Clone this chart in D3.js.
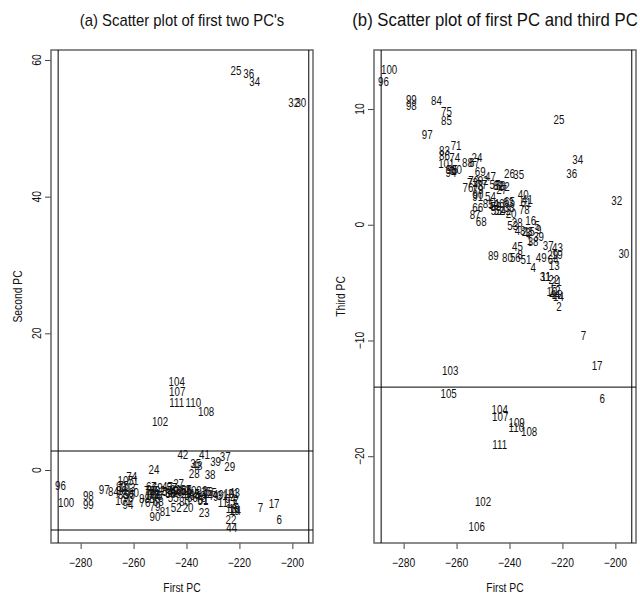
<!DOCTYPE html>
<html>
<head>
<meta charset="utf-8">
<script src="https://cdn.jsdelivr.net/npm/d3@7"></script>
<style>
  body { margin: 0; background: #fff; }
  svg text { font-family: "Liberation Sans", Arial, sans-serif; fill: #111; }
</style>
</head>
<body>
<div id="chart"></div>
<script>
const ids = d3.range(1, 112);

const pc1 = [
  -232.5, -221.3, -233.0, -231.0, -229.5, -205.0, -212.1, -236.0, -229.0, -224.0,
  -226.3, -222.8, -223.1, -221.5, -232.5, -232.0, -206.9, -222.0, -222.0, -239.4,
  -222.3, -223.2, -233.3, -252.3, -221.3, -240.0, -243.0, -237.1, -223.7, -196.8,
  -226.5, -199.5, -240.0, -214.2, -236.5, -216.5, -225.4, -231.1, -229.0, -234.8,
  -233.2, -241.4, -221.9, -222.9, -237.0, -244.0, -247.2, -236.0, -228.0, -246.0,
  -233.8, -243.9, -238.8, -247.2, -245.0, -237.8, -245.5, -243.5, -245.1, -260.0,
  -233.8, -242.0, -240.5, -223.5, -240.0, -252.0, -253.3, -250.7, -251.1, -253.5,
  -260.2, -254.0, -252.0, -260.7, -263.8, -255.7, -250.5, -234.4, -251.9, -240.8,
  -248.1, -244.2, -264.6, -267.6, -263.8, -264.6, -253.0, -255.9, -246.1, -251.9,
  -252.0, -250.0, -262.0, -262.1, -261.5, -287.6, -271.1, -277.1, -277.1, -285.5,
  -263.9, -250.0, -262.4, -243.7, -263.0, -252.4, -243.5, -232.6, -237.3, -237.4,
  -243.7
];

const pc2 = [
  -3.5, -4.4, -3.0, -3.8, -3.3, -7.2, -5.5, -3.6, -3.9, -3.5,
  -4.8, -4.9, -5.7, -5.9, -3.2, -3.1, -4.9, -5.6, -5.9, -5.5,
  -3.5, -7.2, -6.2, 0.0, 58.4, -3.0, -2.0, -0.5, 0.5, 53.7,
  -3.8, 53.7, -3.5, 56.9, 1.0, 58.0, 2.0, -0.7, 1.3, -3.8,
  2.3, 2.3, -3.3, -8.5, -3.5, -3.0, -2.5, 0.7, -3.6, -3.4,
  -4.5, -5.5, -3.8, -3.2, -4.0, -4.0, -2.6, -3.2, -3.0, -3.3,
  -4.3, -3.5, -2.9, -4.2, -2.8, -4.2, -2.5, -4.6, -2.6, -3.4,
  -1.5, -3.0, -3.6, -0.9, -2.3, -4.8, -3.7, -4.0, -5.4, -4.6,
  -6.1, -2.8, -2.5, -3.2, -3.6, -3.0, -3.0, -4.2, -3.3, -6.8,
  -3.4, -3.0, -4.0, -5.0, -3.6, -2.3, -2.8, -3.8, -5.0, -4.8,
  -4.5, 7.1, -2.6, 13.0, -1.5, -3.8, 11.4, 8.5, -3.0, 9.8,
  9.8
];

const pc3 = [
  -1.4, -7.1, -0.7, -3.7, -0.1, -15.0, -9.6, -2.6, -0.4, -5.8,
  -4.5, -5.7, -3.5, -6.2, -0.6, 0.35, -12.2, -6.0, -2.6, 1.0,
  -4.9, -4.7, -0.6, 5.8, 9.1, 4.4, 3.0, 0.2, -2.6, -2.5,
  -4.5, 2.1, 1.5, 5.6, 4.3, 4.4, -1.8, -1.5, -1.0, 2.6,
  2.2, 1.2, -2.0, -6.0, -1.9, 1.8, 4.2, -0.5, -2.8, 1.7,
  -3.0, 1.2, -0.1, 2.45, 1.2, -2.8, 3.5, 3.4, 1.6, 4.8,
  1.9, 3.3, 1.9, -3.0, 2.0, 1.5, 5.36, 0.29, 4.6, 3.8,
  6.8, 3.6, 3.4, 5.8, 9.8, 3.2, 3.5, 1.3, 3.0, -2.8,
  1.8, 3.4, 6.4, 10.7, 9.0, 6.0, 0.86, 5.36, -2.7, 2.6,
  2.45, 3.8, 4.75, 4.5, 4.8, 12.4, 7.8, 10.3, 10.8, 13.4,
  5.3, -23.9, -12.6, -16.0, -14.6, -26.1, -16.6, -17.9, -17.1, -17.5,
  -19.0
];

// reference lines drawn across each panel
const vLines = [-288.5, -193.8];
const hLinesA = [2.78, -8.78];
const hLinesB = [-14.03];

const xTicks = [-280, -260, -240, -220, -200];
const yTicksA = [0, 20, 40, 60];
const yTicksB = [-20, -10, 0, 10];

const W = 640, H = 597;
const svg = d3.select("#chart").append("svg")
    .attr("width", W)
    .attr("height", H);

// text squeezed horizontally, like the narrow device font of the original
function narrowText(sel, x, y, txt, size, squeeze, rot) {
    let t = sel.append("g")
        .attr("transform", "translate(" + x + "," + y + ")" + (rot ? " rotate(" + rot + ")" : ""))
        .append("text")
        .attr("transform", "scale(" + squeeze + ",1)")
        .attr("text-anchor", "middle")
        .attr("dy", "0.35em")
        .style("font-size", size + "px")
        .text(txt);
    return t;
}

function drawPanel(opt) {
    let x = d3.scaleLinear().domain([-291.2, -192.2]).range([opt.left, opt.right]);
    let y = d3.scaleLinear().domain(opt.yDomain).range([opt.bottom, opt.top]);

    let g = svg.append("g");

    // title
    narrowText(g, opt.titleX, 20, opt.title, opt.titleSize, 0.93, 0);

    // axes (tick marks from d3, labels squeezed)
    let xAxis = d3.axisBottom(x).tickValues(xTicks).tickSize(6).tickFormat("");
    let gx = g.append("g")
        .attr("transform", "translate(0," + opt.bottom + ")")
        .call(xAxis);
    gx.select(".domain").remove();
    gx.selectAll("line").attr("stroke", "#444");
    xTicks.forEach(v => narrowText(g, x(v), opt.bottom + 20, d3.format("d")(v), 12, 0.86, 0));

    let yAxis = d3.axisLeft(y).tickValues(opt.yTicks).tickSize(6).tickFormat("");
    let gy = g.append("g")
        .attr("transform", "translate(" + opt.left + ",0)")
        .call(yAxis);
    gy.select(".domain").remove();
    gy.selectAll("line").attr("stroke", "#444");
    opt.yTicks.forEach(v => narrowText(g, opt.left - 14, y(v), d3.format("d")(v), 12, 0.86, -90));

    // axis titles
    narrowText(g, (opt.left + opt.right) / 2, 588, "First PC", 12, 0.86, 0);
    narrowText(g, opt.left - 33, (opt.top + opt.bottom) / 2, opt.yLabel, 12, 0.86, -90);

    // plot frame
    g.append("rect")
        .attr("x", opt.left).attr("y", opt.top)
        .attr("width", opt.right - opt.left)
        .attr("height", opt.bottom - opt.top)
        .attr("fill", "none")
        .attr("stroke", "#666")
        .attr("stroke-width", 1.5);

    // reference lines
    g.selectAll(".vline").data(vLines).enter().append("line")
        .attr("class", "vline")
        .attr("x1", d => x(d)).attr("x2", d => x(d))
        .attr("y1", opt.top).attr("y2", opt.bottom)
        .attr("stroke", "#000");
    g.selectAll(".hline").data(opt.hLines).enter().append("line")
        .attr("class", "hline")
        .attr("x1", opt.left).attr("x2", opt.right)
        .attr("y1", d => y(d)).attr("y2", d => y(d))
        .attr("stroke", "#000");

    // point labels
    let labs = g.selectAll(".lab").data(ids).enter().append("g")
        .attr("class", "lab")
        .attr("transform", (d, i) => "translate(" + x(pc1[i]) + "," + y(opt.yVals[i]) + ")");
    labs.append("text")
        .attr("transform", "scale(0.78,1)")
        .attr("dy", "0.35em")
        .attr("text-anchor", "middle")
        .style("font-size", "12.5px")
        .text(d => d);
}

drawPanel({
    left: 51, right: 313, top: 50, bottom: 543,
    yDomain: [-10.68, 61.46], yTicks: yTicksA, hLines: hLinesA,
    yVals: pc2, yLabel: "Second PC",
    titleX: 182, titleSize: 16,
    title: "(a) Scatter plot of first two PC's"
});

drawPanel({
    left: 374, right: 636, top: 50, bottom: 543,
    yDomain: [-27.5, 15.1], yTicks: yTicksB, hLines: hLinesB,
    yVals: pc3, yLabel: "Third PC",
    titleX: 495, titleSize: 18,
    title: "(b) Scatter plot of first PC and third PC"
});
</script>
</body>
</html>
